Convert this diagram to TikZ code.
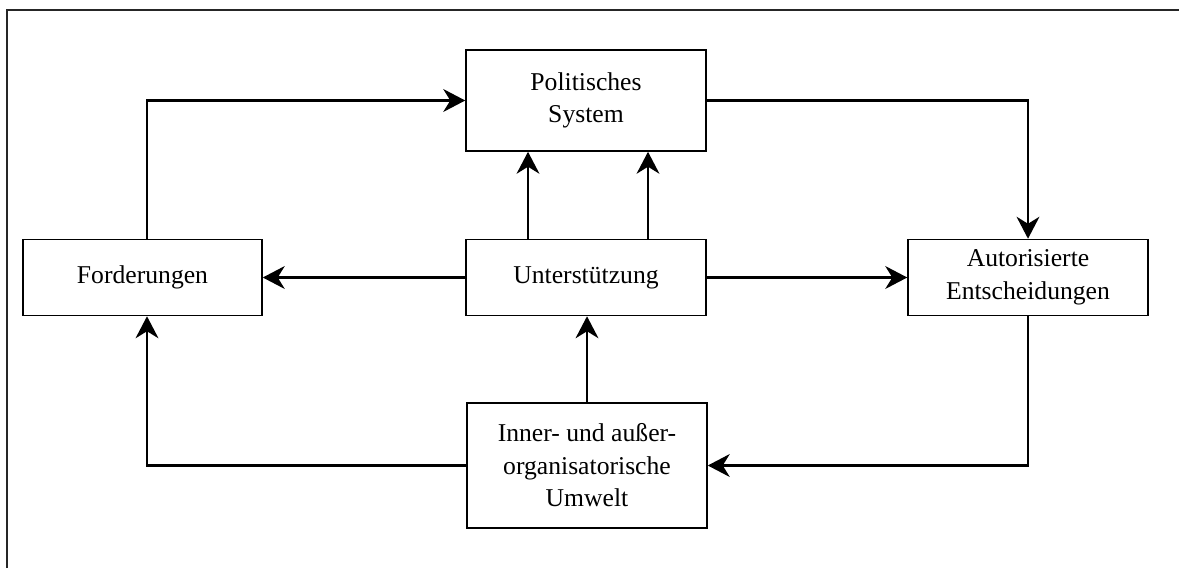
\documentclass[tikz,border=0pt]{standalone}
\usepackage{fontspec}
\setmainfont{Liberation Serif}
\usetikzlibrary{arrows.meta}

\tikzset{
  box/.style={draw, line width=0.9pt, align=center, inner sep=2pt,
    minimum width=4.8cm, minimum height=1.52cm,
    font=\fontsize{14.6}{18.5}\selectfont},
  flow/.style={-{Stealth[length=12.5pt, width=13pt, inset=4pt]}, line width=1.3pt},
}

\begin{document}
\begin{tikzpicture}[x=0.02cm, y=-0.02cm]
\useasboundingbox (0,0) rectangle (1179,568);

% Rahmen
\draw[line width=1.2pt, black!85] (7,568) -- (7,10) -- (1179,10);

% Kästen
\node[box, minimum height=2.02cm] (sys) at (586,100.5) {Politisches\\System};
\node[box, minimum width=4.78cm] (ford) at (142.5,277.5) {Forderungen};
\node[box] (unt) at (586,277.5) {Unterstützung};
\node[box] (aut) at (1028,277.5) {Autorisierte\\Entscheidungen};
\node[box, minimum height=2.5cm] (umw) at (587,465.5) {Inner- und außer-\\organisatorische\\Umwelt};

\coordinate (fl) at (147,0);
\coordinate (ua) at (528,0);
\coordinate (ub) at (648,0);

% Verbindungen
\draw[flow] (ford.north -| fl) |- (sys.west);
\draw[flow] (sys.east) -| (aut.north);
\draw[flow] (unt.north -| ua) -- (sys.south -| ua);
\draw[flow] (unt.north -| ub) -- (sys.south -| ub);
\draw[flow] (unt.west) -- (ford.east);
\draw[flow] (unt.east) -- (aut.west);
\draw[flow] (umw.north) -- (umw.north |- unt.south);
\draw[flow] (umw.west) -| (ford.south -| fl);
\draw[flow] (aut.south) |- (umw.east);
\end{tikzpicture}
\end{document}
